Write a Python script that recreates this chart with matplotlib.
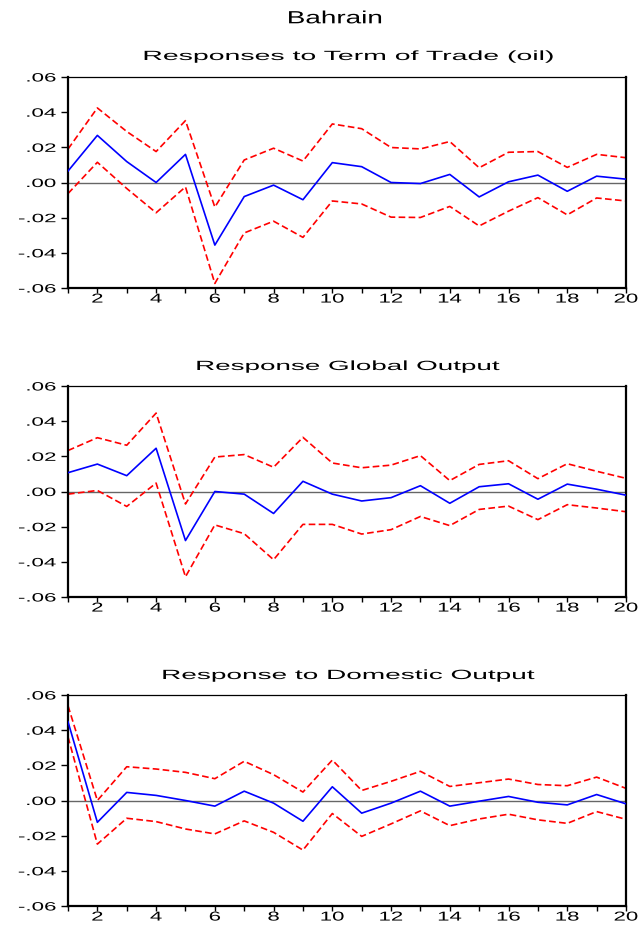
import matplotlib
matplotlib.use("Agg")
import matplotlib.pyplot as plt
from matplotlib.patheffects import AbstractPathEffect
from matplotlib.transforms import Affine2D

plt.rcParams["font.family"] = ["Liberation Sans", "DejaVu Sans"]

# Impulse response data: periods 1..20, point estimate and +/- 2 S.E. bands
periods = list(range(1, 21))

tot_mid = [0.0065, 0.0268, 0.0119, 0.0000, 0.0160, -0.0356, -0.0080, -0.0015, -0.0098, 0.0113,
           0.0090, 0.0000, -0.0006, 0.0046, -0.0082, 0.0004, 0.0042, -0.0050, 0.0036, 0.0019]
tot_up = [0.0190, 0.0424, 0.0290, 0.0176, 0.0352, -0.0140, 0.0128, 0.0195, 0.0122, 0.0333,
          0.0306, 0.0199, 0.0191, 0.0233, 0.0084, 0.0172, 0.0176, 0.0086, 0.0160, 0.0141]
tot_lo = [-0.0063, 0.0115, -0.0034, -0.0172, -0.0025, -0.0574, -0.0287, -0.0220, -0.0312, -0.0105,
          -0.0122, -0.0197, -0.0199, -0.0136, -0.0247, -0.0163, -0.0086, -0.0184, -0.0088, -0.0105]

glob_mid = [0.0107, 0.0156, 0.0090, 0.0246, -0.0279, 0.0000, -0.0015, -0.0125, 0.0058, -0.0015,
            -0.0054, -0.0035, 0.0033, -0.0067, 0.0027, 0.0044, -0.0044, 0.0042, 0.0013, -0.0021]
glob_up = [0.0233, 0.0306, 0.0263, 0.0446, -0.0071, 0.0196, 0.0210, 0.0138, 0.0308, 0.0162,
           0.0135, 0.0150, 0.0204, 0.0062, 0.0154, 0.0175, 0.0073, 0.0158, 0.0115, 0.0075]
glob_lo = [-0.0015, 0.0006, -0.0085, 0.0048, -0.0485, -0.0190, -0.0240, -0.0388, -0.0187, -0.0187,
           -0.0242, -0.0217, -0.0142, -0.0194, -0.0102, -0.0083, -0.0160, -0.0075, -0.0094, -0.0115]

dom_mid = [0.0448, -0.0124, 0.0046, 0.0029, 0.0000, -0.0032, 0.0053, -0.0015, -0.0118, 0.0078,
           -0.0072, -0.0015, 0.0053, -0.0032, -0.0004, 0.0023, -0.0010, -0.0025, 0.0034, -0.0019]
dom_up = [0.0539, 0.0000, 0.0192, 0.0179, 0.0160, 0.0124, 0.0223, 0.0147, 0.0048, 0.0230,
          0.0057, 0.0109, 0.0166, 0.0080, 0.0101, 0.0122, 0.0091, 0.0084, 0.0133, 0.0069]
dom_lo = [0.0362, -0.0248, -0.0101, -0.0120, -0.0162, -0.0190, -0.0116, -0.0181, -0.0282, -0.0074,
          -0.0204, -0.0133, -0.0059, -0.0143, -0.0105, -0.0078, -0.0110, -0.0130, -0.0063, -0.0107]

panel_titles = ["Responses to Term of Trade (oil)",
                "Response Global Output",
                "Response to Domestic Output"]
panel_series = [(tot_mid, tot_up, tot_lo),
                (glob_mid, glob_up, glob_lo),
                (dom_mid, dom_up, dom_lo)]
y_ticks = [-0.06, -0.04, -0.02, 0.00, 0.02, 0.04, 0.06]
x_major = list(range(2, 21, 2))


class HStretch(AbstractPathEffect):
    """Draw text widened horizontally (wide EViews-style lettering)."""

    def __init__(self, factor=1.0, width=None, anchor=0.5):
        super().__init__()
        self.factor = factor
        self.width = width
        self.anchor = anchor

    def draw_path(self, renderer, gc, tpath, affine, rgbFace=None):
        ext = tpath.get_extents(affine)
        sx = self.width / ext.width if self.width else self.factor
        cx = ext.x0 + self.anchor * ext.width
        t = affine + Affine2D().translate(-cx, 0).scale(sx, 1).translate(cx, 0)
        renderer.draw_path(gc, tpath, t, rgbFace)


def fmt_tick(v):
    s = f"{v:.2f}"
    return s.replace("0.", ".", 1)


W, H = 642, 929
fig = plt.figure(figsize=(W / 100, H / 100), dpi=100)

# axes boxes in pixels: (left, top, right, bottom)
boxes = [(68, 78, 626, 289), (68, 387, 626, 598), (68, 696, 626, 907)]
title_pos = [(349, 61, 408), (348, 371, 302), (348.5, 680, 371)]

fig.text(335 / W, 1 - 24.3 / H, "Bahrain", ha="center", va="baseline",
         fontsize=12.7, path_effects=[HStretch(width=92)])

for (l, t, r, b), (tx, ty, tw), title, (mid, up, lo) in zip(boxes, title_pos, panel_titles, panel_series):
    ax = fig.add_axes([l / W, 1 - b / H, (r - l) / W, (b - t) / H])
    ax.axhline(0, color="#666666", lw=1.0, zorder=1)
    ax.plot(periods, up, color="#ff0000", lw=1.2, ls=(0, (4, 2)), zorder=2)
    ax.plot(periods, lo, color="#ff0000", lw=1.2, ls=(0, (4, 2)), zorder=2)
    ax.plot(periods, mid, color="#0000ff", lw=1.2, zorder=3)
    ax.set_xlim(1, 20)
    ax.set_ylim(-0.06, 0.06)

    ax.set_xticks(x_major)
    ax.set_xticklabels([str(v) for v in x_major])
    ax.set_xticks(periods, minor=True)
    ax.set_yticks(y_ticks)
    ax.set_yticklabels([fmt_tick(v) for v in y_ticks])

    ax.tick_params(axis="x", which="both", direction="out", length=3.5, width=1.0,
                   pad=0.5, labelsize=9.3, color="black")
    ax.tick_params(axis="y", direction="out", length=5, width=1.0, pad=3.5,
                   labelsize=8.7, color="black")
    for lbl in ax.get_xticklabels():
        lbl.set_path_effects([HStretch(factor=1.72, anchor=0.5)])
    for lbl in ax.get_yticklabels():
        lbl.set_path_effects([HStretch(factor=1.85, anchor=1.0)])

    for side in ("left", "right", "bottom"):
        ax.spines[side].set_linewidth(1.6)
    ax.spines["top"].set_linewidth(0.9)

    fig.text(tx / W, 1 - ty / H, title, ha="center", va="baseline",
             fontsize=9.6, path_effects=[HStretch(width=tw)])

fig.savefig("out.png", dpi=100)
